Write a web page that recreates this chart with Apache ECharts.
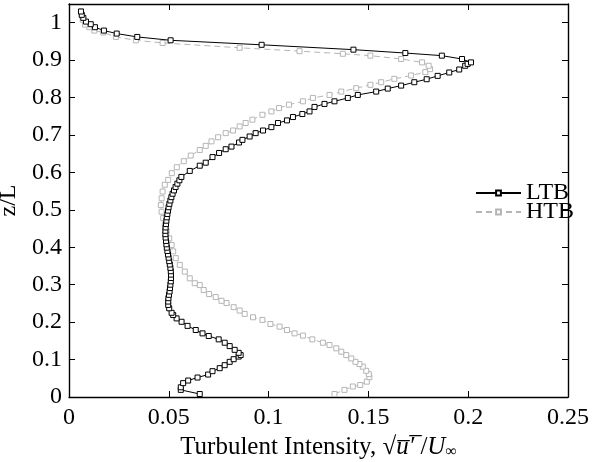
<!DOCTYPE html>
<html>
<head>
<meta charset="utf-8">
<script src="https://cdn.jsdelivr.net/npm/echarts@6/dist/echarts.min.js"></script>
<style>html,body{margin:0;padding:0;background:#fff}#c{width:593px;height:462px}</style>
</head>
<body>
<div id="c"></div>
<script>
var ltbX = [.0655,.056,.056,.0572,.0597,.0644,.0697,.0719,.0755,.078,.0805,.0825,.085,.086,.085,.083,.0805,.078,.075,.070,.0669,.0635,.0594,.0564,.0539,.0522,.0514,.0502,.0497,.0497,
  .0498,.0501,.0504,.0506,.0508,.0510,.0511,.0511,.0510,.0508,.0505,.0502,.0499,.0496,.0493,.0490,.0488,.0486,.0484,.0483,.0483,.0484,.0486,.0488,.0490,.0493,.0496,.0499,.0503,.0508,.0513,.0519,.0526,.0534,.0543,.0553,.0563,.0605,
  .0655,.0685,.0719,.0752,.0785,.0814,.0852,.0869,.0905,.0935,.0972,.1014,.1047,.1092,.1122,.1169,.1205,.123,.128,.133,.1397,.1447,
  .1539,.1597,.1664,.173,.1792,.1847,.1905,.1955,.1985,.1997,.2014,
  .1969,.1868,.1685,.1425,.0965,.0509,.0342,.0239,.0175,.013,.0109,.0085,.0072,.0064,.006];
var ltbZ = [.008,.019,.026,.037,.044,.052,.060,.069,.077,.085,.094,.101,.108,.112,.118,.126,.136,.145,.154,.163,.170,.179,.190,.201,.210,.219,.225,.237,.246,.255,
  .264,.273,.282,.291,.300,.309,.318,.327,.336,.345,.354,.363,.372,.381,.390,.399,.408,.417,.426,.435,.444,.453,.462,.471,.480,.489,.498,.507,.516,.525,.534,.543,.552,.561,.570,.579,.588,.604,
  .618,.626,.641,.652,.662,.669,.680,.687,.696,.705,.712,.721,.732,.739,.748,.756,.763,.775,.783,.790,.799,.807,
  .816,.824,.832,.841,.849,.858,.867,.875,.885,.890,.894,
  .903,.912,.919,.928,.941,.953,.962,.971,.979,.988,.996,1.003,1.013,1.021,1.030];
var htbX = [.133,.138,.1422,.1459,.1492,.1505,.1502,.1489,.1472,.1455,.1435,.1414,.1389,.1364,.1339,.1305,.1272,.1219,.1172,.113,.1092,.1055,.1009,.0969,.0922,.088,.0855,.0825,.0789,.0764,.0735,.0702,.0675,.0655,.063,.0605,.058,.0555,.0535,.0522,.0514,.0502,.0489,.048,.0472,.0464,.046,.0464,.0469,.048,.0497,.0515,.054,.0575,.061,
  .0655,.0685,.0714,.0747,.0785,.0822,.0855,.0885,.0919,.0969,.1014,.1052,.1102,.1172,.1222,.1305,.1364,.1439,
  .151,.1564,.163,.1714,.1785,.1809,.1802,.1769,.1664,.151,.1372,.1155,.0855,.0469,.0335,.0235,.0172,.0127,.0102,.008,.0069,.0064,.006];
var htbZ = [.008,.019,.028,.032,.041,.053,.061,.070,.081,.088,.094,.103,.112,.121,.130,.139,.145,.154,.164,.170,.179,.188,.195,.206,.213,.222,.231,.240,.251,.257,.267,.275,.286,.299,.304,.317,.335,.353,.371,.389,.406,.424,.442,.460,.478,.495,.513,.531,.549,.567,.580,.598,.614,.630,.645,
  .660,.671,.683,.694,.705,.712,.723,.732,.741,.754,.763,.772,.781,.790,.799,.807,.816,.825,
  .834,.841,.850,.859,.868,.876,.885,.894,.903,.912,.917,.924,.933,.946,.953,.962,.974,.979,.988,.995,1.008,1.019,1.030];
var seriesNames = ['LTB', 'HTB'];
var yTitle = 'z/L';

function pairs(xs, zs) { var o = []; for (var i = 0; i < xs.length; i++) o.push([xs[i], zs[i]]); return o; }

var FONT = 'Liberation Serif';
var FS = 24;
var chart = echarts.init(document.getElementById('c'), null, {renderer: 'canvas'});
var tickStyle = {show: true, inside: true, length: 6, lineStyle: {color: '#000', width: 1}};
var lineAx = {show: true, onZero: false, lineStyle: {color: '#000', width: 1.4}};
chart.setOption({
  animation: false,
  backgroundColor: '#fff',
  grid: {left: 69, right: 25, top: 4, bottom: 65, show: false, containLabel: false, outerBoundsMode: 'none'},
  legend: {
    orient: 'vertical', left: 475, top: 181, padding: 0, itemGap: -5, itemWidth: 45, itemHeight: 6,
    textStyle: {fontFamily: FONT, fontSize: FS, color: '#000', padding: [0, 0, 0, 0]},
    data: seriesNames
  },
  xAxis: [{
    type: 'value', min: 0, max: 0.25, interval: 0.05, position: 'bottom',
    axisLine: lineAx, axisTick: tickStyle, splitLine: {show: false},
    axisLabel: {fontFamily: FONT, fontSize: FS, color: '#000', margin: 9},
    name: '{a|Turbulent Intensity, √}{i|u̅′̅}{a| /}{i|U}{s|∞}', nameLocation: 'middle', nameGap: 38,
    nameTextStyle: {fontFamily: FONT, fontSize: 25, color: '#000',
      rich: {a: {fontFamily: FONT, fontSize: 25, color: '#000'},
             i: {fontFamily: FONT, fontSize: 25, color: '#000', fontStyle: 'italic'},
             s: {fontFamily: FONT, fontSize: 16, color: '#000', verticalAlign: 'bottom', padding: [8, 0, 0, 0]}}}
  }, {
    type: 'value', min: 0, max: 0.25, interval: 0.05, position: 'top',
    axisLine: lineAx, axisTick: tickStyle, axisLabel: {show: false}, splitLine: {show: false}
  }],
  yAxis: [{
    type: 'value', min: 0, max: 1.05, interval: 0.1, position: 'left',
    axisLine: lineAx, axisTick: tickStyle, splitLine: {show: false},
    axisLabel: {fontFamily: FONT, fontSize: FS, color: '#000', margin: 7,
      formatter: function (v) { return v > 1.01 ? '' : String(Math.round(v * 10) / 10); }},
    name: yTitle, nameLocation: 'middle', nameGap: 38,
    nameTextStyle: {fontFamily: FONT, fontSize: FS, color: '#000'}
  }, {
    type: 'value', min: 0, max: 1.05, interval: 0.1, position: 'right',
    axisLine: lineAx, axisTick: tickStyle, axisLabel: {show: false}, splitLine: {show: false}
  }],
  series: [{
    name: seriesNames[0], type: 'line', xAxisIndex: 0, yAxisIndex: 0,
    data: pairs(ltbX, ltbZ), symbol: 'rect', symbolSize: 5, showAllSymbol: true,
    lineStyle: {color: '#000', width: 1},
    itemStyle: {color: '#fff', borderColor: '#000', borderWidth: 1}, z: 3
  }, {
    name: seriesNames[1], type: 'line', xAxisIndex: 0, yAxisIndex: 0,
    data: pairs(htbX, htbZ), symbol: 'rect', symbolSize: 5, showAllSymbol: true,
    lineStyle: {color: '#b5b5b5', width: 1, type: [6, 4]},
    itemStyle: {color: '#fff', borderColor: '#b5b5b5', borderWidth: 1}, z: 2
  }]
});
</script>
</body>
</html>
